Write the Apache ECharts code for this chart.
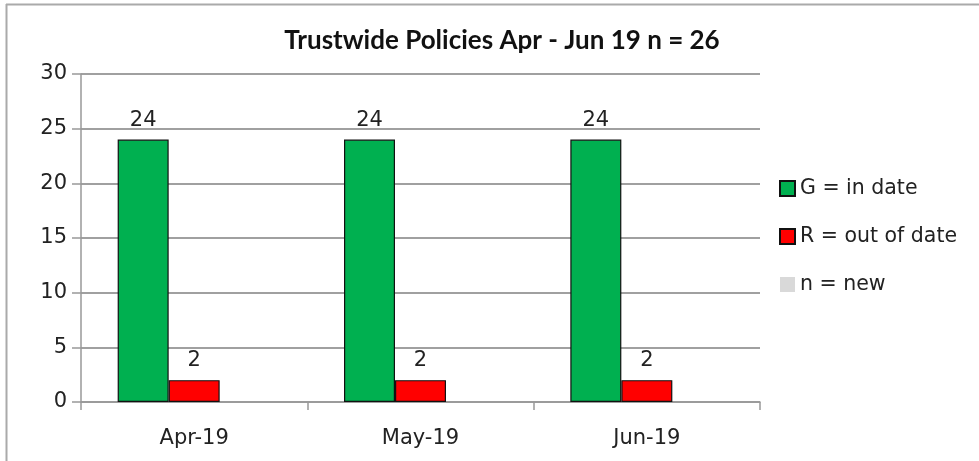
<!DOCTYPE html>
<html><head><meta charset="utf-8">
<script src="https://cdn.jsdelivr.net/npm/echarts@6/dist/echarts.min.js"></script>
<style>html,body{margin:0;padding:0;background:#fff}#c{width:979px;height:461px}</style>
</head><body><div id="c"></div>
<script>
const categories = ['Apr-19', 'May-19', 'Jun-19'];
const inDate = [24, 24, 24];
const outOfDate = [2, 2, 2];
const newPolicies = [null, null, null];
const titleText = 'Trustwide Policies Apr - Jun 19 n = 26';

const chart = echarts.init(document.getElementById('c'));
const labelFont = 'DejaVu Sans';
chart.setOption({
  animation: false,
  backgroundColor: '#fff',
  title: {
    text: titleText, left: 497, top: 23, textAlign: 'center',
    textStyle: {fontFamily: 'Lato', fontSize: 26, fontWeight: 'bold', color: '#111'}
  },
  legend: {
    orient: 'vertical', left: 779, top: 178, padding: 0, itemGap: 27, itemWidth: 15, itemHeight: 15, itemTextGap: 3,
    icon: 'rect', selectedMode: false,
    textStyle: {fontFamily: labelFont, fontSize: 20.5, color: '#222'}
  },
  grid: {left: 81, right: 219, top: 74, bottom: 59},
  xAxis: {
    type: 'category', data: categories,
    axisLine: {lineStyle: {color: '#999', width: 1.5}},
    axisTick: {show: true, length: 8, lineStyle: {color: '#999', width: 1.5}},
    axisLabel: {margin: 26, fontFamily: labelFont, fontSize: 21, color: '#222'}
  },
  yAxis: {
    type: 'value', min: 0, max: 30, interval: 5,
    axisLine: {show: true, lineStyle: {color: '#999', width: 1.5}},
    axisTick: {show: true, length: 9, lineStyle: {color: '#999', width: 1.5}},
    splitLine: {lineStyle: {color: '#a0a0a0', width: 2}},
    axisLabel: {margin: 14, fontFamily: labelFont, fontSize: 21, color: '#222'}
  },
  series: [
    {name: 'G = in date', type: 'bar', data: inDate, barWidth: 51, barGap: '0%',
     itemStyle: {color: '#00b050', borderColor: '#111', borderWidth: 1.2},
     label: {show: true, position: 'top', distance: 9, fontFamily: labelFont, fontSize: 21, color: '#222'}},
    {name: 'R = out of date', type: 'bar', data: outOfDate, barWidth: 51, barGap: '0%',
     itemStyle: {color: '#ff0000', borderColor: '#111', borderWidth: 1.2},
     label: {show: true, position: 'top', distance: 9, fontFamily: labelFont, fontSize: 21, color: '#222'}},
    {name: 'n = new', type: 'bar', data: newPolicies, barWidth: 51, barGap: '0%',
     itemStyle: {color: '#d9d9d9', borderWidth: 0}}
  ],
  graphic: [
    {type: 'line', shape: {x1: 6, y1: 4.5, x2: 979, y2: 4.5}, style: {stroke: '#aaa', lineWidth: 2}, silent: true},
    {type: 'line', shape: {x1: 6.5, y1: 4, x2: 6.5, y2: 461}, style: {stroke: '#aaa', lineWidth: 2}, silent: true}
  ]
});
</script></body></html>
